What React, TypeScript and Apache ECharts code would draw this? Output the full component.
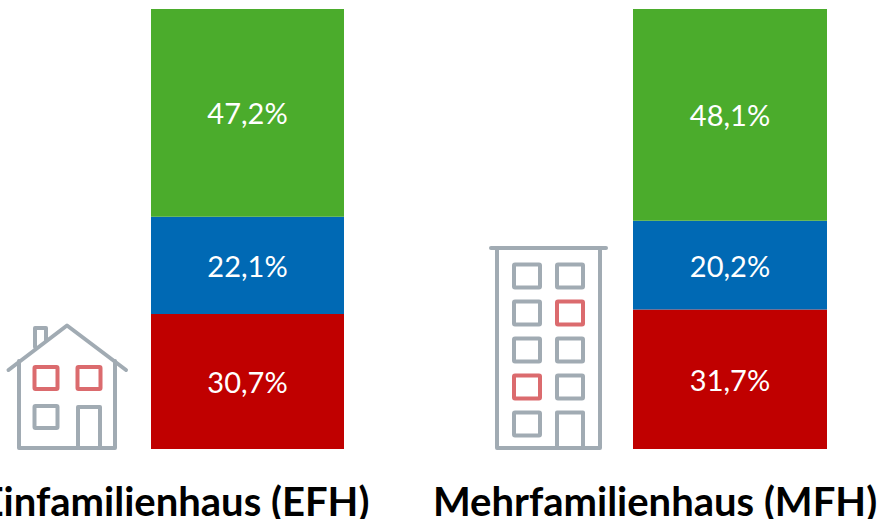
import React, { useEffect, useRef } from "react";
import * as echarts from "echarts";

const buildingTypes = ["Einfamilienhaus (EFH)", "Mehrfamilienhaus (MFH)"];
const redValues = [30.7, 31.7];
const blueValues = [22.1, 20.2];
const greenValues = [47.2, 48.1];

const GREY = "#A1ABB3";
const RED = "#DB6B6E";
const fmt = (v: number) => v.toFixed(1).replace(".", ",") + "%";

const line = (points: number[][], stroke = GREY) => ({
  type: "polyline",
  shape: { points },
  style: { stroke, fill: "none", lineWidth: 4, lineCap: "round", lineJoin: "round" },
  silent: true,
});
const box = (x: number, y: number, width: number, height: number, stroke = GREY) => ({
  type: "rect",
  shape: { x, y, width, height, r: 1 },
  style: { stroke, fill: "none", lineWidth: 4 },
  silent: true,
});

const houseIcon = [
  line([[35, 347], [35, 328], [46, 328], [46, 340]]),
  line([[19, 361], [19, 448], [115, 448], [115, 361]]),
  line([[8.5, 370], [67, 325.5], [126, 370]]),
  box(34.5, 367, 23, 22, RED),
  box(77.5, 367, 23, 22, RED),
  box(34.5, 406, 23, 22),
  line([[78, 448], [78, 407], [100, 407], [100, 448]]),
];

const towerWindows = [264.5, 301.5, 338.5, 375.5, 412.5];
const towerIcon = [
  line([[491, 248], [606, 248]]),
  line([[497, 248], [497, 448], [600, 448], [600, 248]]),
  ...towerWindows.flatMap((y, row) => {
    const left = box(514, y, 26, 23, row === 3 ? RED : GREY);
    if (row === 4) {
      return [left, line([[557, 448], [557, y], [583, y], [583, 448]])];
    }
    return [left, box(557, y, 26, 23, row === 1 ? RED : GREY)];
  }),
];

const grids = [
  { left: 151, top: 9, width: 193, height: 440 },
  { left: 633, top: 9, width: 194, height: 440 },
];

const series = [
  { values: redValues, color: "#C00000" },
  { values: blueValues, color: "#0069B4" },
  { values: greenValues, color: "#4BAC2C" },
];

export default function App() {
  const ref = useRef<HTMLDivElement>(null);
  useEffect(() => {
    document.body.style.margin = "0";
    const chart = echarts.init(ref.current!, undefined, { renderer: "svg" });
    chart.setOption({
      animation: false,
      backgroundColor: "#FFFFFF",
      grid: grids,
      xAxis: grids.map((_, i) => ({
        type: "category",
        gridIndex: i,
        data: [buildingTypes[i]],
        show: false,
      })),
      yAxis: grids.map((_, i) => ({
        type: "value",
        gridIndex: i,
        min: 0,
        max: 100,
        show: false,
      })),
      series: grids.flatMap((_, i) =>
        series.map((s) => ({
          type: "bar",
          xAxisIndex: i,
          yAxisIndex: i,
          stack: "share" + i,
          barWidth: "100%",
          data: [s.values[i]],
          itemStyle: { color: s.color },
          label: {
            show: true,
            position: "inside",
            formatter: (p: any) => fmt(p.value),
            color: "#FFFFFF",
            fontFamily: "Lato",
            fontSize: 29,
          },
        }))
      ),
      graphic: [
        ...houseIcon,
        ...towerIcon,
        {
          type: "text",
          x: 175,
          y: 501,
          silent: true,
          style: {
            text: buildingTypes[0],
            fontFamily: "Lato",
            fontWeight: "bold",
            fontSize: 40,
            fill: "#000000",
            align: "center",
            verticalAlign: "middle",
          },
        },
        {
          type: "text",
          x: 655,
          y: 501,
          silent: true,
          style: {
            text: buildingTypes[1],
            fontFamily: "Lato",
            fontWeight: "bold",
            fontSize: 40,
            fill: "#000000",
            align: "center",
            verticalAlign: "middle",
          },
        },
      ],
    });
    return () => chart.dispose();
  }, []);
  return <div ref={ref} style={{ width: 878, height: 519, overflow: "hidden" }} />;
}
